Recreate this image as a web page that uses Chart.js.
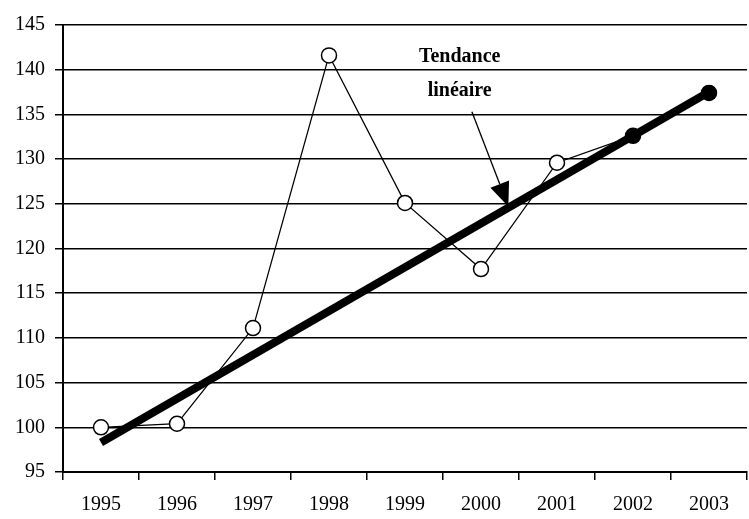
<!DOCTYPE html>
<html>
<head>
<meta charset="utf-8">
<script src="https://cdn.jsdelivr.net/npm/chart.js@4"></script>
<style>
  html, body { margin: 0; padding: 0; background: #fff; overflow: hidden; }
  #chart { display: block; position: relative; top: 3px; }
</style>
</head>
<body>
<canvas id="chart" width="756" height="519"></canvas>
<script>
const years = ['1995', '1996', '1997', '1998', '1999', '2000', '2001', '2002', '2003'];
const indice = [100, 100.4, 111.1, 141.6, 125.1, 117.7, 129.6, 132.6, 137.4];
const tendance = [98.3, null, null, null, null, null, null, null, 137.5];
const yTicks = [95, 100, 105, 110, 115, 120, 125, 130, 135, 140, 145];

const serif = '"Liberation Serif", "Times New Roman", serif';

// annotation "Tendance linéaire" + arrow, placed in data units
const note = {
  id: 'note',
  afterDatasetsDraw(chart) {
    const x = chart.scales.x, y = chart.scales.y, c = chart.ctx;
    const cx = x.getPixelForValue(4.72);
    c.save();
    c.fillStyle = '#000';
    c.font = 'bold 20px ' + serif;
    c.textAlign = 'center';
    c.textBaseline = 'middle';
    c.fillText('Tendance', cx, y.getPixelForValue(141.4));
    c.fillText('linéaire', cx, y.getPixelForValue(137.6));
    // arrow
    const x0 = x.getPixelForValue(4.88), y0 = y.getPixelForValue(135.3);
    const x1 = x.getPixelForValue(5.36), y1 = y.getPixelForValue(124.7);
    const a = Math.atan2(y1 - y0, x1 - x0);
    const hl = 24, hw = 10;
    const bx = x1 - hl * Math.cos(a), by = y1 - hl * Math.sin(a);
    c.strokeStyle = '#000';
    c.lineWidth = 1.3;
    c.beginPath();
    c.moveTo(x0, y0);
    c.lineTo(bx, by);
    c.stroke();
    c.beginPath();
    c.moveTo(x1, y1);
    c.lineTo(bx + hw * Math.sin(a), by - hw * Math.cos(a));
    c.lineTo(bx - hw * Math.sin(a), by + hw * Math.cos(a));
    c.closePath();
    c.fill();
    c.restore();
  }
};

new Chart(document.getElementById('chart'), {
  type: 'line',
  data: {
    labels: years,
    datasets: [{
      label: 'Tendance linéaire',
      data: tendance,
      borderColor: '#000',
      borderWidth: 8,
      spanGaps: true,
      pointRadius: [0, 0, 0, 0, 0, 0, 0, 0, 7],
      pointBackgroundColor: '#000',
      pointBorderWidth: 0,
      borderCapStyle: 'butt',
      order: 0
    }, {
      label: 'Indice',
      data: indice,
      borderColor: '#000',
      borderWidth: 1.3,
      pointRadius: 7.5,
      pointBorderWidth: 1.5,
      pointBorderColor: '#000',
      pointBackgroundColor: ['#fff', '#fff', '#fff', '#fff', '#fff', '#fff', '#fff', '#000', '#000'],
      order: 1
    }]
  },
  options: {
    responsive: false,
    animation: false,
    events: [],
    layout: { padding: { top: 20, left: 5, right: 0, bottom: -8 } },
    plugins: { legend: { display: false }, tooltip: { enabled: false } },
    scales: {
      x: {
        offset: true,
        grid: {
          offset: true,
          drawOnChartArea: false,
          color: '#000',
          lineWidth: 1.5,
          tickLength: 8
        },
        border: { color: '#000', width: 2 },
        ticks: {
          color: '#000',
          font: { family: serif, size: 20, lineHeight: 1 },
          padding: 15,
          maxRotation: 0
        }
      },
      y: {
        min: 95,
        max: 145,
        afterBuildTicks(axis) { axis.ticks = yTicks.map(v => ({ value: v })); },
        grid: {
          color: '#000',
          lineWidth: 1.5,
          tickLength: 8
        },
        border: { color: '#000', width: 2 },
        ticks: {
          color: '#000',
          font: { family: serif, size: 20 },
          padding: 10
        }
      }
    }
  },
  plugins: [note]
});
</script>
</body>
</html>
